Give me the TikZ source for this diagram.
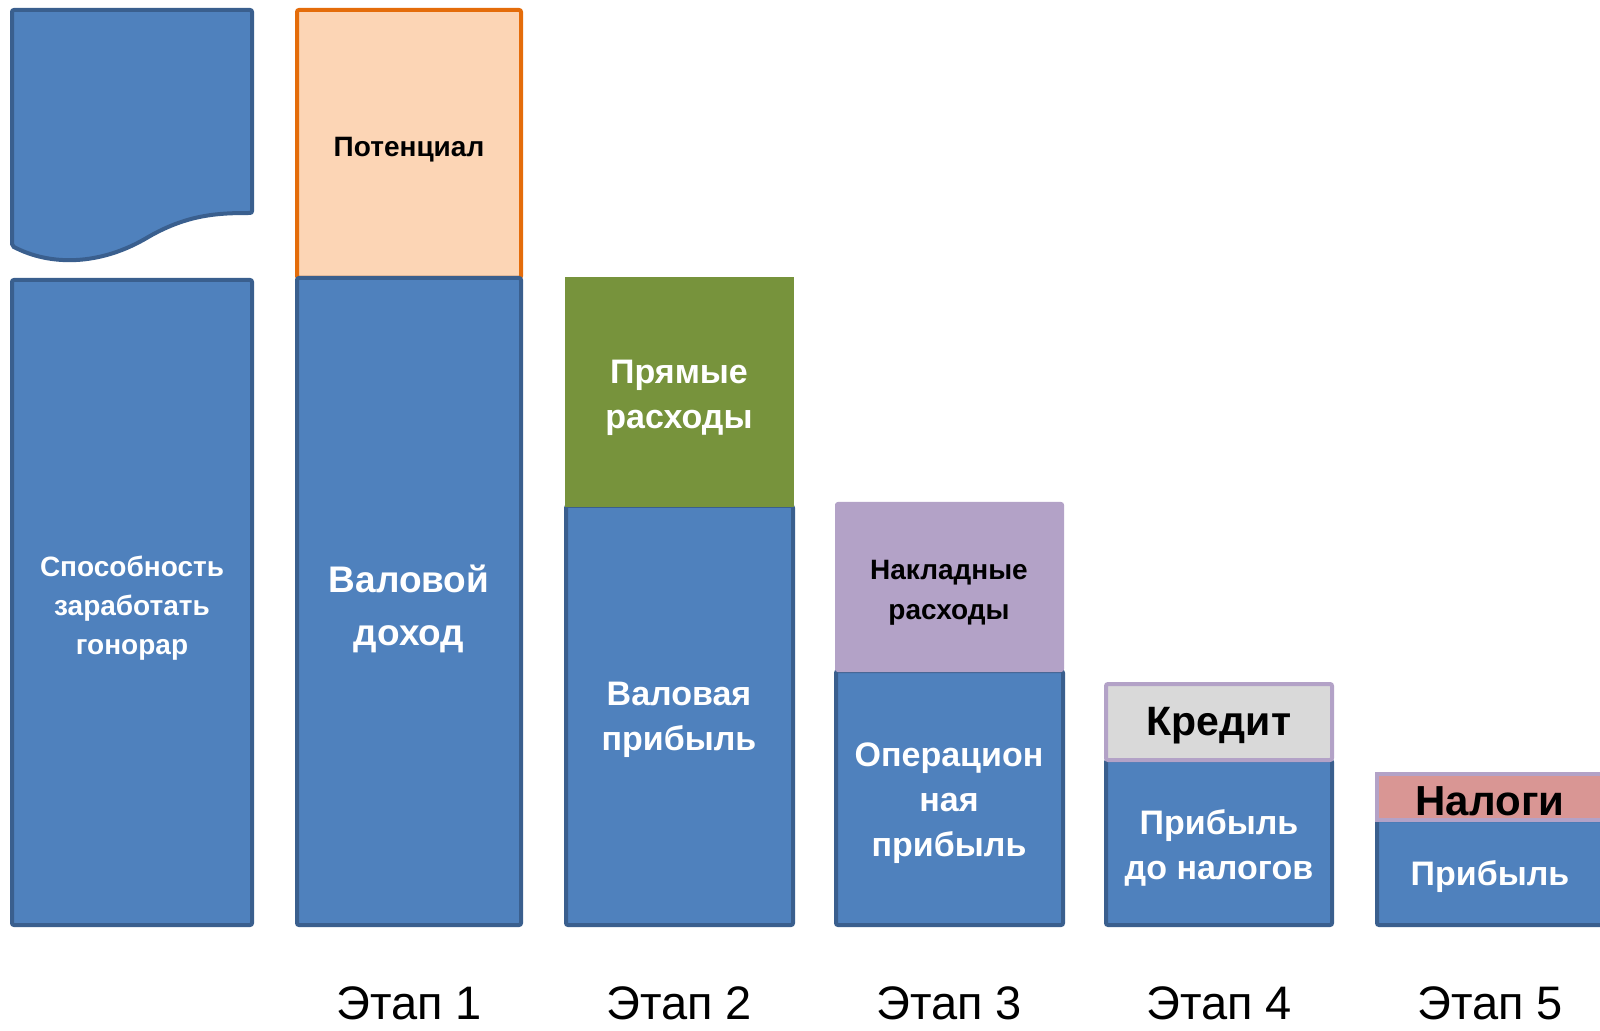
\documentclass[tikz,border=0pt]{standalone}
\usepackage{fontspec}
\setmainfont{Liberation Sans}
\definecolor{barblue}{HTML}{4F81BD}
\definecolor{barline}{HTML}{3A5F8E}
\definecolor{potfill}{HTML}{FCD5B5}
\definecolor{potline}{HTML}{E46C0A}
\definecolor{directfill}{HTML}{77933C}
\definecolor{overfill}{HTML}{B3A2C7}
\definecolor{creditfill}{HTML}{D9D9D9}
\definecolor{taxfill}{HTML}{D99694}
\tikzset{
  bar/.style={draw=barline, fill=barblue, line width=2pt, rounded corners=1pt},
  potbox/.style={draw=potline, fill=potfill, line width=2pt, rounded corners=1pt},
  directbox/.style={draw=directfill, fill=directfill, line width=1pt},
  overbox/.style={draw=overfill, fill=overfill, line width=1pt, rounded corners=1pt},
  creditbox/.style={draw=overfill, fill=creditfill, line width=2pt, rounded corners=1pt},
  taxbox/.style={draw=overfill, fill=taxfill, line width=2pt},
  wtxt/.style={text=white, align=center, font=\bfseries\fontsize{17}{22.5}\selectfont},
  btxt/.style={text=black, align=center, font=\bfseries\fontsize{14}{20}\selectfont},
  stage/.style={inner sep=0pt, font=\fontsize{23.5}{26}\selectfont},
}
\begin{document}
\begin{tikzpicture}[x=0.5pt, y=-0.5pt]
\useasboundingbox (0,0) rectangle (1600,1031);
% column 1
\draw[bar] (12,10) -- (252,10) -- (252,213)
  .. controls (220,213) and (190,214) .. (150,236)
  .. controls (100,266) and (50,266) .. (12,246) -- cycle;
\draw[bar] (12,280) rectangle (252,925);
\node[wtxt, font=\bfseries\fontsize{14}{19.5}\selectfont] (fee) at (132,608) {Способность\\заработать\\гонорар};
% column 2
\draw[potbox] (297,10) rectangle (521,278);
\draw[bar] (297,278) rectangle (521,925);
\node[btxt] (pot) at (409,150) {Потенциал};
\node[wtxt, font=\bfseries\fontsize{18.5}{26.5}\selectfont] (gross_inc) at (409,609) {Валовой\\доход};
% column 3
\draw[bar] (566,506) rectangle (793,925);
\draw[directbox] (566,278) rectangle (793,506);
\node[wtxt] (direct) at (679,398) {Прямые\\расходы};
\node[wtxt] (gross_prof) at (679,720) {Валовая\\прибыль};
% column 4
\draw[bar] (836,671) rectangle (1063,925);
\draw[overbox] (836,503) rectangle (1063,671);
\node[btxt] (over) at (949,593) {Накладные\\расходы};
\node[wtxt] (oper) at (949,803) {Операцион\\ная\\прибыль};
% column 5
\draw[bar] (1106,760) rectangle (1332,925);
\draw[creditbox] (1106,684) rectangle (1332,760);
\node[btxt, font=\bfseries\fontsize{20.5}{22}\selectfont] (credit) at (1219,726) {Кредит};
\node[wtxt] (pretax) at (1219,848) {Прибыль\\до налогов};
% column 6
\draw[bar] (1377,820) rectangle (1620,925);
\draw[taxbox] (1377,774) rectangle (1620,820);
\node[btxt, font=\bfseries\fontsize{21}{24}\selectfont] (tax) at (1490,801) {Налоги};
\node[wtxt] (net) at (1490,877) {Прибыль};
% stages
\foreach \i/\x in {1/409, 2/679, 3/949, 4/1219, 5/1490}
  \node[stage] (stage_\i) at (\x,1003) {Этап \i};
\end{tikzpicture}
\end{document}
